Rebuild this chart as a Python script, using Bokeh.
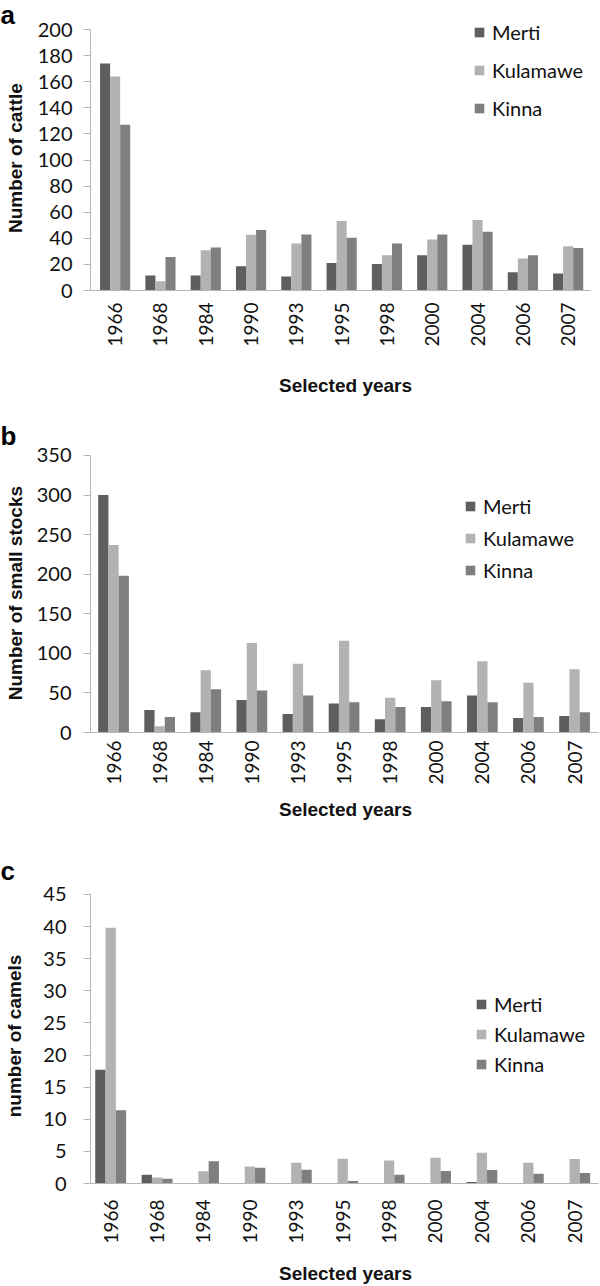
import math
from bokeh.plotting import figure
from bokeh.models import (Legend, LegendItem, Title, Range1d, FixedTicker,
                          ColumnDataSource)
from bokeh.layouts import column
from bokeh.transform import dodge
from bokeh.embed import file_html
from bokeh.resources import INLINE

years = ["1966", "1968", "1984", "1990", "1993", "1995", "1998", "2000", "2004", "2006", "2007"]
series = ["Merti", "Kulamawe", "Kinna"]
colors = ["#5e5e5e", "#b2b2b2", "#7f7f7f"]

cattle_merti = [174, 11.5, 11.5, 18.5, 10.8, 21, 20.3, 27, 35, 14, 13]
cattle_kulamawe = [164, 7, 30.8, 42.8, 36, 53.3, 27, 39, 54, 24.6, 34]
cattle_kinna = [127, 25.6, 33, 46.4, 43, 40.5, 36, 43, 45, 27, 32.5]

small_merti = [300, 28.5, 25.5, 41, 23.4, 36.6, 16.6, 32.3, 46.8, 18.3, 20.9]
small_kulamawe = [237, 8, 78.7, 113, 87, 116, 43.8, 66, 90, 63, 80]
small_kinna = [198, 19.6, 54.5, 53, 46.8, 38.3, 32.3, 39.6, 38.3, 19.6, 25.5]

camel_merti = [17.7, 1.35, 0, 0, 0, 0, 0, 0, 0.25, 0, 0]
camel_kulamawe = [39.8, 0.95, 1.9, 2.65, 3.25, 3.85, 3.6, 4.0, 4.8, 3.25, 3.8]
camel_kinna = [11.4, 0.75, 3.45, 2.45, 2.15, 0.4, 1.35, 1.95, 2.1, 1.5, 1.65]

cattle_ticks = [0, 20, 40, 60, 80, 100, 120, 140, 160, 180, 200]
small_ticks = [0, 50, 100, 150, 200, 250, 300, 350]
camel_ticks = [0, 5, 10, 15, 20, 25, 30, 35, 40, 45]

FONT = "Lato"
BOLD_FONT = "Liberation Sans"
AXIS_GREY = "#b5b5b5"
TEXT = "#111111"
LEFT = 90


def make_panel(letter, ylabel, vals, ticks, cfg):
    p = figure(width=600, height=cfg["height"], output_backend="svg",
               toolbar_location=None,
               x_range=Range1d(cfg["xstart"], cfg["xend"]),
               y_range=Range1d(ticks[0], cfg["yend"]),
               min_border_left=LEFT, min_border_right=0,
               min_border_top=cfg["top"], min_border_bottom=cfg["bottom"])
    p.outline_line_color = None
    p.xgrid.visible = False
    p.ygrid.visible = False
    p.background_fill_color = "white"
    p.border_fill_color = "white"

    src = ColumnDataSource(dict(idx=list(range(len(years))),
                                s0=vals[0], s1=vals[1], s2=vals[2]))
    w = 0.222
    items = []
    for k, (name, col) in enumerate(zip(series, colors)):
        r = p.vbar(x=dodge("idx", (k - 1) * w, range=p.x_range), top="s%d" % k,
                   width=w, bottom=0, source=src, fill_color=col,
                   line_color=None)
        items.append(LegendItem(label=name, renderers=[r]))

    leg = Legend(items=items, location=cfg["legloc"], orientation="vertical",
                 glyph_width=12, glyph_height=12, label_height=24,
                 label_standoff=7, spacing=cfg["spacing"], padding=0, margin=0,
                 border_line_color=None, background_fill_alpha=0,
                 label_text_font=FONT, label_text_font_size="20px",
                 label_text_color=TEXT)
    p.add_layout(leg)

    ya = p.yaxis[0]
    ya.ticker = FixedTicker(ticks=ticks)
    ya.bounds = (ticks[0], ticks[-1])
    ya.axis_line_color = AXIS_GREY
    ya.major_tick_line_color = AXIS_GREY
    ya.major_tick_out = 7
    ya.major_tick_in = 0
    ya.minor_tick_line_color = None
    ya.major_label_standoff = cfg["ystand"]
    ya.major_label_text_font = FONT
    ya.major_label_text_font_size = "20px"
    ya.major_label_text_color = TEXT
    ya.axis_label = ylabel
    ya.axis_label_text_font = BOLD_FONT
    ya.axis_label_text_font_style = "bold"
    ya.axis_label_text_font_size = "19px"
    ya.axis_label_text_line_height = 1.0
    ya.axis_label_text_color = TEXT
    ya.axis_label_standoff = cfg["ylstand"]

    xa = p.xaxis[0]
    xa.ticker = FixedTicker(ticks=list(range(len(years))))
    xa.major_label_overrides = {i: y for i, y in enumerate(years)}
    xa.bounds = (cfg["xstart"], cfg["xbound"])
    xa.axis_line_color = AXIS_GREY
    xa.major_tick_line_color = None
    xa.major_tick_out = 0
    xa.major_tick_in = 0
    xa.minor_tick_line_color = None
    xa.major_label_orientation = math.pi / 2
    xa.major_label_standoff = cfg["xstand"]
    xa.major_label_text_font = FONT
    xa.major_label_text_font_size = "19px"
    xa.major_label_text_color = TEXT
    xa.axis_label = "Selected years"
    xa.axis_label_text_font = BOLD_FONT
    xa.axis_label_text_font_style = "bold"
    xa.axis_label_text_font_size = "19px"
    xa.axis_label_text_color = TEXT
    xa.axis_label_standoff = cfg["xlstand"]

    t = Title(text=letter, align="left", vertical_align="bottom",
              offset=-LEFT, standoff=cfg["tstand"],
              text_font=BOLD_FONT, text_font_style="bold",
              text_font_size="26px", text_color="#000000")
    p.add_layout(t, "above")
    return p


pa = make_panel("a", "Number of  cattle",
                [cattle_merti, cattle_kulamawe, cattle_kinna], cattle_ticks,
                dict(height=420, top=20, bottom=130,
                     xstart=-0.544, xend=10.714, xbound=10.49, yend=206.9,
                     legloc=(383, 170), spacing=14, ystand=11, ylstand=9,
                     xstand=12, xlstand=25, tstand=-19))
pb = make_panel("b", "Number of small  stocks",
                [small_merti, small_kulamawe, small_kinna], small_ticks,
                dict(height=430, top=28, bottom=118,
                     xstart=-0.5, xend=10.563, xbound=10.51, yend=358.8,
                     legloc=(374, 150.5), spacing=8, ystand=12, ylstand=8,
                     xstand=8, xlstand=11, tstand=-5))
pc = make_panel("c", "number of camels",
                [camel_merti, camel_kulamawe, camel_kinna], camel_ticks,
                dict(height=436, top=38, bottom=101,
                     xstart=-0.435, xend=10.556, xbound=10.51, yend=45.93,
                     legloc=(385, 107), spacing=6, ystand=17, ylstand=15,
                     xstand=16, xlstand=16, tstand=5))

layout = column(pa, pb, pc, spacing=0)
open("out.html", "w").write(file_html(layout, INLINE))
